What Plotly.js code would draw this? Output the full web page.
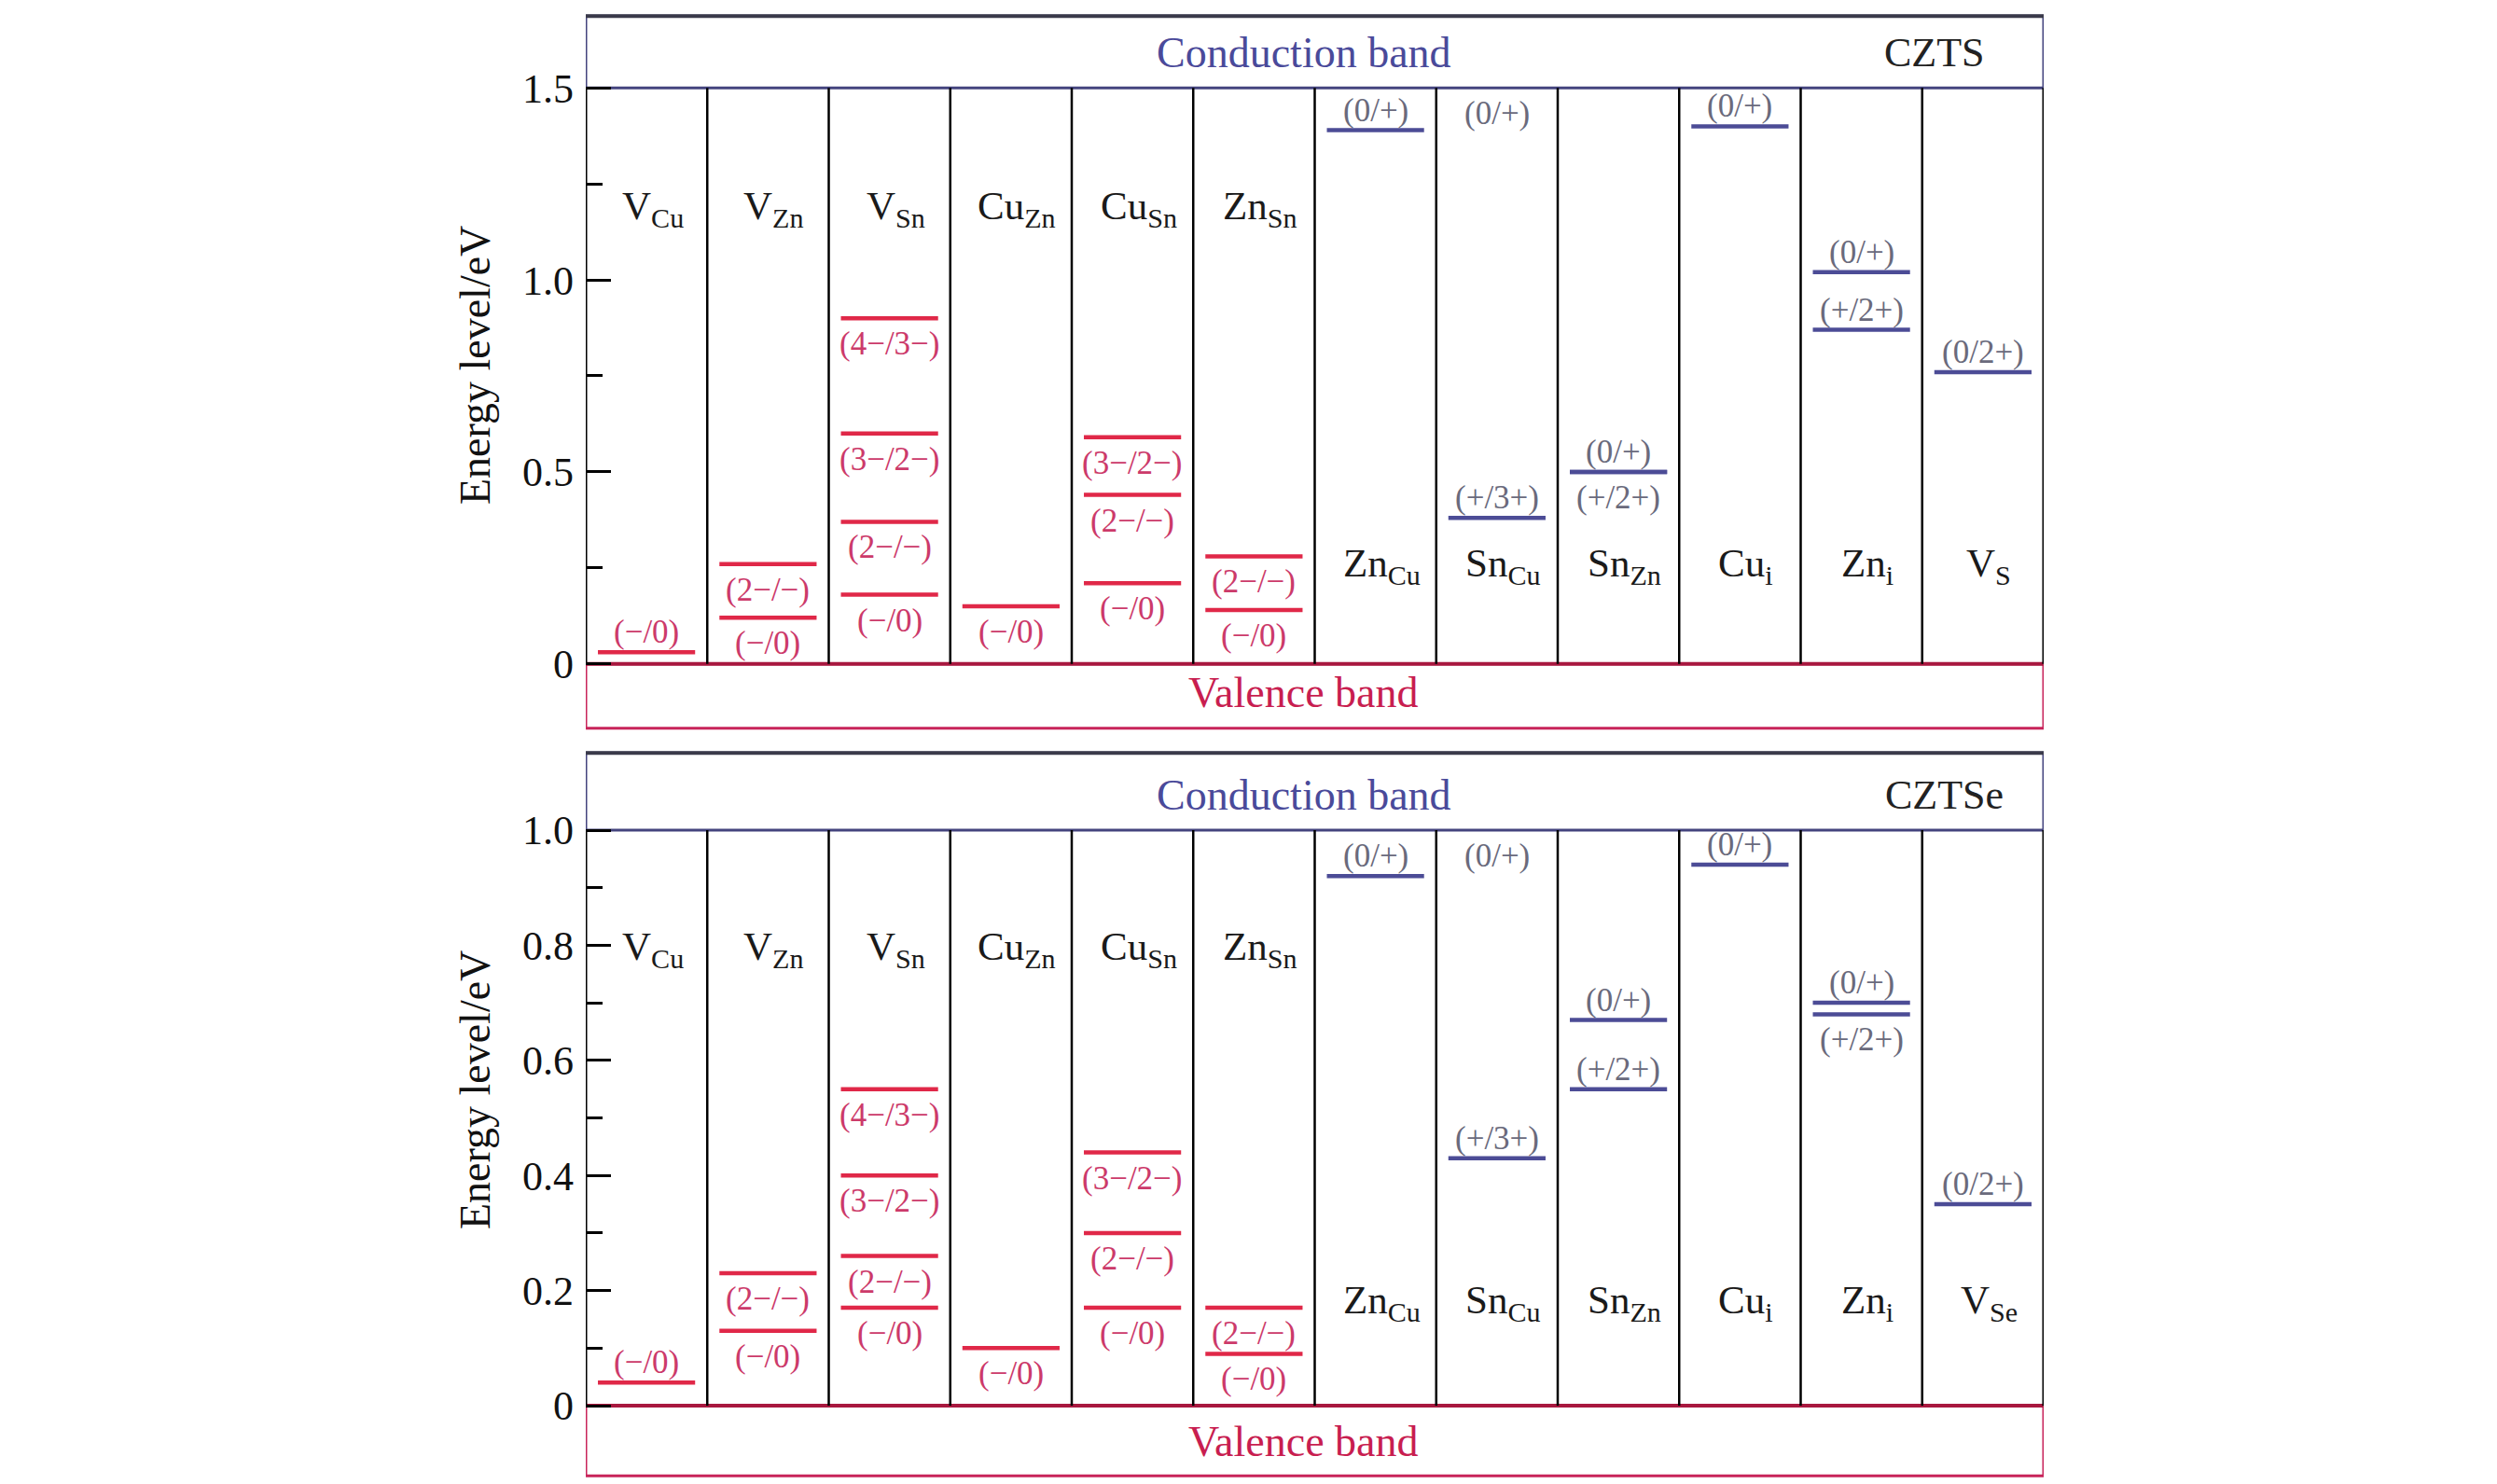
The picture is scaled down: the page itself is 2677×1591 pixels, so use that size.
<!DOCTYPE html>
<html><head><meta charset="utf-8">
<script src="https://cdn.plot.ly/plotly-3.0.1.min.js"></script>
<style>html,body{margin:0;padding:0;background:#fff}</style>
</head><body>
<div id="chart" style="width:2677px;height:1591px"></div>
<script>
// ---------------- DATA ----------------
const defects_CZTS  = ["V<sub>Cu</sub>","V<sub>Zn</sub>","V<sub>Sn</sub>","Cu<sub>Zn</sub>","Cu<sub>Sn</sub>","Zn<sub>Sn</sub>",
                       "Zn<sub>Cu</sub>","Sn<sub>Cu</sub>","Sn<sub>Zn</sub>","Cu<sub>i</sub>","Zn<sub>i</sub>","V<sub>S</sub>"];
const defects_CZTSe = ["V<sub>Cu</sub>","V<sub>Zn</sub>","V<sub>Sn</sub>","Cu<sub>Zn</sub>","Cu<sub>Sn</sub>","Zn<sub>Sn</sub>",
                       "Zn<sub>Cu</sub>","Sn<sub>Cu</sub>","Sn<sub>Zn</sub>","Cu<sub>i</sub>","Zn<sub>i</sub>","V<sub>Se</sub>"];

// CZTS transition levels (eV above VBM)
const czts_col   = [0, 1, 1, 2, 2, 2, 2, 3, 4, 4, 4, 5, 5, 6, 7, 7, 8, 8, 9, 10, 10, 11];
const czts_E     = [0.03, 0.26, 0.12, 0.90, 0.60, 0.37, 0.18, 0.15, 0.59, 0.44, 0.21, 0.28, 0.14,
                    1.39, 1.50, 0.38, 0.50, 0.50, 1.40, 1.02, 0.87, 0.76];
const czts_label = ["(−/0)","(2−/−)","(−/0)","(4−/3−)","(3−/2−)","(2−/−)","(−/0)","(−/0)","(3−/2−)","(2−/−)","(−/0)","(2−/−)","(−/0)",
                    "(0/+)","(0/+)","(+/3+)","(0/+)","(+/2+)","(0/+)","(0/+)","(+/2+)","(0/2+)"];
const czts_side  = ["a","b","b","b","b","b","b","b","b","b","b","b","b",
                    "a","b","a","a","b","a","a","a","a"];
const czts_kind  = ["acc","acc","acc","acc","acc","acc","acc","acc","acc","acc","acc","acc","acc",
                    "don","don","don","don","don","don","don","don","don"];

// CZTSe transition levels (eV above VBM)
const cztse_col   = [0, 1, 1, 2, 2, 2, 2, 3, 4, 4, 4, 5, 5, 6, 7, 7, 8, 8, 9, 10, 10, 11];
const cztse_E     = [0.04, 0.23, 0.13, 0.55, 0.40, 0.26, 0.17, 0.10, 0.44, 0.30, 0.17, 0.17, 0.09,
                     0.92, 1.00, 0.43, 0.67, 0.55, 0.94, 0.70, 0.68, 0.35];
const cztse_label = ["(−/0)","(2−/−)","(−/0)","(4−/3−)","(3−/2−)","(2−/−)","(−/0)","(−/0)","(3−/2−)","(2−/−)","(−/0)","(2−/−)","(−/0)",
                     "(0/+)","(0/+)","(+/3+)","(0/+)","(+/2+)","(0/+)","(0/+)","(+/2+)","(0/2+)"];
const cztse_side  = ["a","b","b","b","b","b","b","b","b","b","b","b","b",
                     "a","b","a","a","a","a","a","b","a"];
const cztse_kind  = ["acc","acc","acc","acc","acc","acc","acc","acc","acc","acc","acc","acc","acc",
                     "don","don","don","don","don","don","don","don","don"];

const czts_ticks   = [0, 0.5, 1.0, 1.5];
const czts_tickTxt = ["0", "0.5", "1.0", "1.5"];
const czts_minor   = [0.25, 0.75, 1.25];
const cztse_ticks   = [0, 0.2, 0.4, 0.6, 0.8, 1.0];
const cztse_tickTxt = ["0", "0.2", "0.4", "0.6", "0.8", "1.0"];
const cztse_minor   = [0.1, 0.3, 0.5, 0.7, 0.9];

const materials = ["CZTS", "CZTSe"];
const gaps = [1.5, 1.0];

// ---------------- STYLE / LAYOUT ----------------
const W = 2677, H = 1591;
const FONT = "Liberation Serif, Times New Roman, serif";
const ACC_LINE = "#e02848", DON_LINE = "#4c4c96";
const ACC_TXT = "#cc3a6a", DON_TXT = "#6a6a7c";
const CB_COL = "#44447e", VB_COL = "#c8245a";
const xLeftPx = 628, xRightPx = 2191;

// panel geometry: pixel of E=0, pixels per eV, axis range, box extents, name rows
const panels = [
  {zeroPx: 711.7, ppe: 411.6, range: [-0.175, 1.695], cbTop: 1.687, vbBot: -0.168,
   nameY: [1.185, 0.255], bandTextY: [1.591, -0.076], titleY: 392},
  {zeroPx: 1507, ppe: 617, range: [-0.13, 1.14], cbTop: 1.134, vbBot: -0.122,
   nameY: [0.793, 0.178], bandTextY: [1.06, -0.062], titleY: 1169}
];

function domainOf(p) {
  const botPx = p.zeroPx - p.range[0] * p.ppe;
  const topPx = p.zeroPx - p.range[1] * p.ppe;
  return [1 - botPx / H, 1 - topPx / H];
}

const sets = [
  {names: defects_CZTS, col: czts_col, E: czts_E, label: czts_label, side: czts_side, kind: czts_kind,
   ticks: czts_ticks, tickTxt: czts_tickTxt, minor: czts_minor},
  {names: defects_CZTSe, col: cztse_col, E: cztse_E, label: cztse_label, side: cztse_side, kind: cztse_kind,
   ticks: cztse_ticks, tickTxt: cztse_tickTxt, minor: cztse_minor}
];

const traces = [], shapes = [], annotations = [];
const layout = {
  width: W, height: H, margin: {l: 0, r: 0, t: 0, b: 0},
  paper_bgcolor: "#fff", plot_bgcolor: "rgba(0,0,0,0)", showlegend: false,
  font: {family: FONT, color: "#111"}
};

sets.forEach((s, i) => {
  const p = panels[i];
  const xa = i === 0 ? "x" : "x2", ya = i === 0 ? "y" : "y2";
  const xk = i === 0 ? "xaxis" : "xaxis2", yk = i === 0 ? "yaxis" : "yaxis2";
  const gap = gaps[i];

  layout[xk] = {domain: [xLeftPx / W, xRightPx / W], range: [0, 12], visible: false,
                anchor: ya, fixedrange: true};
  layout[yk] = {domain: domainOf(p), range: p.range, anchor: xa, fixedrange: true,
                tickmode: "array", tickvals: s.ticks, ticktext: s.tickTxt,
                ticks: "inside", ticklen: 27, tickwidth: 3, tickcolor: "#000",
                showline: false, showgrid: false, zeroline: false,
                ticklabelstandoff: 12,
                tickfont: {family: FONT, size: 44, color: "#111"},
                minor: {tickmode: "array", tickvals: s.minor, ticks: "inside", ticklen: 18,
                        tickwidth: 3, tickcolor: "#000", showgrid: false}};

  // level lines (levels resonant with the band edge are hidden under the band box)
  ["acc", "don"].forEach(k => {
    const xs = [], ys = [];
    s.E.forEach((e, j) => {
      if (s.kind[j] !== k || e >= gap) return;
      xs.push(s.col[j] + 0.1, s.col[j] + 0.9, null);
      ys.push(e, e, null);
    });
    traces.push({type: "scatter", mode: "lines", x: xs, y: ys, xaxis: xa, yaxis: ya,
                 line: {color: k === "acc" ? ACC_LINE : DON_LINE, width: 4.5},
                 hoverinfo: "skip", showlegend: false, cliponaxis: false});
  });

  // charge-state labels
  s.E.forEach((e, j) => {
    const above = s.side[j] === "a";
    annotations.push({xref: xa, yref: ya, x: s.col[j] + 0.5, y: e, text: s.label[j],
      showarrow: false, xanchor: "center", yanchor: above ? "bottom" : "top",
      yshift: above ? 0 : -6,
      font: {family: FONT, size: 35, color: s.kind[j] === "acc" ? ACC_TXT : DON_TXT}});
  });

  // defect names
  s.names.forEach((n, c) => {
    annotations.push({xref: xa, yref: ya, x: c + 0.55, y: c < 6 ? p.nameY[0] : p.nameY[1],
      text: n, showarrow: false, xanchor: "center", yanchor: "middle",
      font: {family: FONT, size: 43, color: "#1a1a1a"}});
  });

  // band boxes
  shapes.push({type: "rect", xref: xa, yref: ya, x0: 0, x1: 12, y0: gap, y1: p.cbTop,
               line: {color: CB_COL, width: 3}, fillcolor: "rgba(0,0,0,0)", layer: "below"});
  shapes.push({type: "line", xref: xa, yref: ya, x0: 0, x1: 12, y0: p.cbTop, y1: p.cbTop,
               line: {color: "#3a3a4a", width: 4}, layer: "below"});
  shapes.push({type: "rect", xref: xa, yref: ya, x0: 0, x1: 12, y0: p.vbBot, y1: 0,
               line: {color: VB_COL, width: 3}, fillcolor: "rgba(0,0,0,0)", layer: "below"});
  shapes.push({type: "line", xref: xa, yref: ya, x0: 0, x1: 12, y0: 0, y1: 0,
               line: {color: "#a8183f", width: 4}, layer: "below"});
  // column dividers
  for (let c = 0; c <= 12; c++) {
    shapes.push({type: "line", xref: xa, yref: ya, x0: c, x1: c, y0: 0, y1: gap,
                 line: {color: "#000", width: c === 0 || c === 12 ? 3 : 2.5}, layer: "below"});
  }

  annotations.push({xref: xa, yref: ya, x: 5.91, y: p.bandTextY[0], text: "Conduction band",
    showarrow: false, xanchor: "center", yanchor: "middle",
    font: {family: FONT, size: 46, color: "#4a4a9a"}});
  annotations.push({xref: xa, yref: ya, x: 5.91, y: p.bandTextY[1], text: "Valence band",
    showarrow: false, xanchor: "center", yanchor: "middle",
    font: {family: FONT, size: 46, color: "#c81e50"}});
  annotations.push({xref: xa, yref: ya, x: i === 0 ? 11.1 : 11.18, y: p.bandTextY[0], text: materials[i],
    showarrow: false, xanchor: "center", yanchor: "middle",
    font: {family: FONT, size: 44, color: "#222"}});

  // y-axis title
  annotations.push({xref: "paper", yref: "paper", x: 509 / W, y: 1 - p.titleY / H, text: "Energy level/eV",
    textangle: -90, showarrow: false, xanchor: "center", yanchor: "middle",
    font: {family: FONT, size: 46, color: "#111"}});
});

layout.shapes = shapes;
layout.annotations = annotations;

Plotly.newPlot("chart", traces, layout, {displayModeBar: false, staticPlot: true});
</script>
</body></html>
